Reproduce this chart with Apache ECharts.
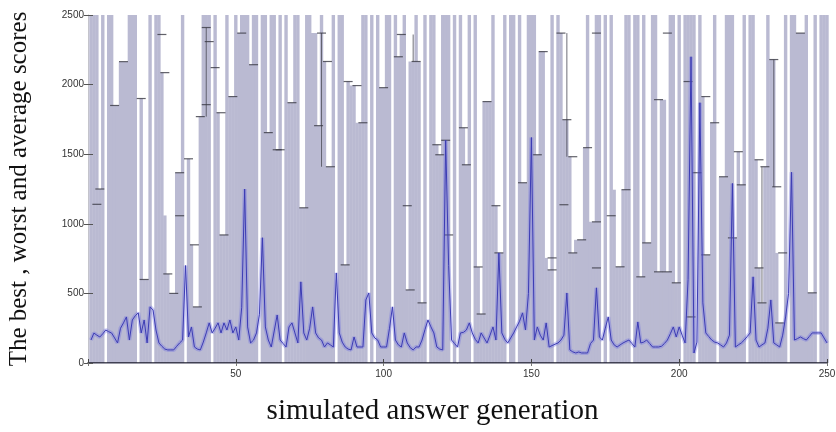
<!DOCTYPE html>
<html>
<head>
  <meta charset="utf-8" />
  <title>best, worst and average scores</title>
  <script src="https://cdn.jsdelivr.net/npm/echarts@6/dist/echarts.min.js"></script>
  <style>
    html, body { margin: 0; padding: 0; background: #fff; }
    #chart { width: 836px; height: 432px; }
  </style>
</head>
<body>
  <div id="chart"></div>
  <script type="text/javascript">
    // worst score of each generation (1..250), 2500 = clipped at the top
    var worst = [
      2500, 2500, 2500, 1250, 2500, 0, 2500, 2500, 1850, 1850,
      2165, 2165, 2165, 2500, 2500, 2500, 0, 1900, 600, 600,
      2500, 0, 2500, 2500, 2086, 1060, 640, 500, 500, 1367,
      1367, 2500, 0, 1467, 849, 403, 403, 1770, 2500, 2500,
      2500, 0, 2500, 1798, 920, 920, 2500, 1914, 1914, 2500,
      2370, 2500, 2500, 2500, 2143, 2500, 2500, 0, 2500, 2500,
      1655, 2500, 2500, 1532, 2500, 0, 2500, 1870, 1870, 2500,
      2500, 1115, 1115, 2500, 2500, 2370, 2370, 1705, 2500, 2166,
      1410, 1410, 2500, 0, 2500, 2500, 705, 2022, 1993, 1993,
      1726, 1726, 2500, 2500, 0, 2500, 0, 2500, 1978, 1978,
      2500, 2500, 0, 2500, 2200, 2360, 2500, 525, 2166, 2166,
      2500, 2166, 432, 2500, 0, 2500, 2500, 1568, 1496, 2500,
      2500, 2500, 0, 2500, 0, 2500, 1690, 1424, 2500, 0,
      2500, 690, 352, 1878, 1878, 1878, 2500, 1130, 791, 791,
      2500, 0, 2500, 2500, 0, 2500, 1295, 1295, 2500, 2500,
      2500, 1496, 2237, 2237, 755, 669, 2500, 0, 2500, 2370,
      1748, 1748, 1482, 791, 885, 885, 885, 1547, 2500, 1014,
      1014, 2500, 2500, 0, 2500, 0, 2500, 1245, 691, 691,
      1245, 2500, 2500, 0, 2500, 2500, 619, 2500, 863, 863,
      2500, 2500, 655, 1892, 1892, 655, 2500, 2500, 576, 2500,
      0, 2500, 2500, 2500, 2500, 0, 2500, 1914, 777, 777,
      1726, 2500, 0, 1338, 1338, 2500, 2500, 2500, 899, 1518,
      1280, 2500, 0, 2500, 2500, 1460, 683, 432, 1410, 2500,
      2180, 2180, 791, 288, 288, 2500, 0, 2500, 2500, 2370,
      2370, 2370, 2500, 504, 504, 2500, 0, 2500, 2500, 2500
    ]

    // average score of each generation
    var average = [
      165, 215, 200, 187, 210, 237, 225, 215, 180, 144,
      250, 288, 331, 165, 309, 340, 360, 216, 309, 144,
      403, 381, 237, 144, 120, 100, 94, 94, 94, 120,
      144, 165, 700, 187, 259, 115, 100, 94, 150, 216,
      288, 216, 250, 288, 216, 288, 237, 309, 216, 259,
      165, 400, 1250, 259, 144, 165, 216, 350, 900, 259,
      165, 115, 230, 345, 165, 140, 115, 259, 288, 216,
      144, 583, 216, 165, 250, 403, 216, 180, 165, 115,
      144, 130, 115, 647, 216, 150, 115, 100, 94, 187,
      115, 115, 115, 453, 503, 216, 180, 165, 115, 115,
      115, 250, 403, 165, 130, 115, 216, 144, 110, 94,
      115, 115, 165, 240, 309, 260, 216, 115, 100, 94,
      1600, 700, 165, 140, 115, 216, 220, 237, 288, 216,
      170, 144, 216, 180, 144, 200, 259, 165, 791, 216,
      170, 144, 180, 216, 259, 300, 360, 237, 500, 1620,
      165, 259, 200, 165, 288, 115, 125, 135, 144, 165,
      200, 503, 94, 80, 72, 79, 72, 72, 72, 140,
      165, 540, 187, 165, 250, 331, 165, 130, 115, 130,
      144, 155, 165, 140, 115, 295, 144, 150, 165, 140,
      115, 115, 115, 120, 140, 165, 210, 259, 187, 259,
      200, 144, 600, 2200, 72, 150, 1870, 432, 216, 190,
      165, 150, 144, 130, 115, 144, 200, 1290, 115, 130,
      144, 165, 190, 216, 619, 165, 115, 130, 144, 250,
      453, 144, 130, 115, 200, 331, 500, 1370, 165, 175,
      187, 175, 165, 190, 216, 216, 216, 216, 180, 144
    ]

    // error bar caps [generation, score]
    var caps = [
      [3, 1140], [4, 1250], [9, 1850], [12, 2165], [18, 1900], [19, 600], [25, 2360], [26, 2086],
      [31, 1058], [27, 640], [29, 500], [31, 1367], [34, 1467], [36, 849], [37, 403], [38, 1770],
      [40, 2410], [41, 2309], [40, 1856], [43, 2122], [45, 1798], [46, 920], [49, 1914], [52, 2370],
      [56, 2143], [61, 1655], [64, 1532], [65, 1532], [69, 1870], [73, 1115], [79, 2370], [78, 1705],
      [81, 2166], [82, 1410], [87, 705], [88, 2022], [91, 1993], [93, 1726], [100, 1978], [105, 2200],
      [106, 2360], [108, 1130], [109, 525], [111, 2166], [113, 432], [118, 1568], [119, 1496], [122, 920],
      [121, 1600], [127, 1690], [128, 1424], [132, 690], [133, 352], [135, 1878], [138, 1130], [139, 791],
      [147, 1295], [152, 1496], [154, 2237], [157, 755], [157, 669], [160, 2370], [161, 1137], [162, 1748],
      [164, 1482], [164, 791], [167, 885], [169, 1547], [172, 1014], [172, 683], [172, 2370], [177, 1058],
      [180, 691], [182, 1245], [187, 619], [189, 863], [193, 655], [196, 655], [193, 1892], [196, 2370],
      [199, 576], [203, 2022], [204, 331], [206, 1367], [209, 777], [209, 1914], [212, 1726], [215, 1338],
      [218, 899], [220, 1518], [221, 1280], [227, 683], [228, 432], [227, 1460], [229, 1410], [232, 2180],
      [233, 1266], [234, 288], [235, 791], [241, 2370], [245, 504]
    ]

    // visible black error bar stems [generation, low, high]
    var stems = [
      [40, 1770, 2410], [79, 1410, 2370], [110, 2166, 2360], [162, 1482, 2370], [228, 432, 1410], [232, 1266, 2180]
    ]

    var xTicks = [0, 50, 100, 150, 200, 250]
    var yTicks = [0, 500, 1000, 1500, 2000, 2500]

    var worstData = worst.map(function (v, i) { return [i + 1, v] })
    var avgData = average.map(function (v, i) { return [i + 1, v] })

    var myChart = echarts.init(document.getElementById("chart"))

    var option = {
      animation: false,
      backgroundColor: "#fff",
      grid: { left: 88, right: 9, top: 15, bottom: 69, outerBoundsMode: "none", containLabel: false },
      xAxis: [
        {
          type: "value",
          min: xTicks[0],
          max: xTicks[xTicks.length - 1],
          interval: 50,
          z: 10,
          axisLine: { show: true, lineStyle: { color: "#1a1a2a", width: 1.5 } },
          axisTick: { show: true, inside: true, length: 4, lineStyle: { color: "#444" } },
          axisLabel: {
            margin: 6,
            fontSize: 10,
            color: "#333",
            fontFamily: "Liberation Sans",
            formatter: function (v) { return v === 0 ? "" : String(v) }
          },
          splitLine: { show: false },
          name: "simulated answer generation",
          nameLocation: "middle",
          nameGap: 34,
          nameTextStyle: { fontFamily: "Liberation Serif", fontSize: 29, color: "#111", padding: [0, 50, 0, 0] }
        },
        {
          type: "value",
          position: "top",
          min: xTicks[0],
          max: xTicks[xTicks.length - 1],
          interval: 50,
          z: 10,
          axisLine: { show: true, lineStyle: { color: "#9a9aa6", width: 1 } },
          axisTick: { show: true, inside: true, length: 3, lineStyle: { color: "#777" } },
          axisLabel: { show: false },
          splitLine: { show: false }
        }
      ],
      yAxis: [
        {
          type: "value",
          min: yTicks[0],
          max: yTicks[yTicks.length - 1],
          interval: 500,
          z: 10,
          axisLine: { show: false },
          axisTick: { show: true, inside: true, length: 5, lineStyle: { color: "#555" } },
          axisLabel: {
            margin: 4,
            fontSize: 10,
            color: "#333",
            fontFamily: "Liberation Sans",
            formatter: function (v) { return String(v) }
          },
          splitLine: { show: false },
          name: "The best , worst and average scores",
          nameLocation: "middle",
          nameGap: 56,
          nameTextStyle: { fontFamily: "Liberation Serif", fontSize: 25, color: "#111" }
        },
        {
          type: "value",
          position: "right",
          min: yTicks[0],
          max: yTicks[yTicks.length - 1],
          interval: 500,
          z: 10,
          axisLine: { show: true, lineStyle: { color: "#c4c4cc" } },
          axisTick: { show: true, inside: true, length: 4, lineStyle: { color: "#555" } },
          axisLabel: { show: false },
          splitLine: { show: false }
        }
      ],
      series: [
        {
          name: "worst",
          type: "bar",
          data: worstData,
          barWidth: 3.4,
          itemStyle: { color: "#babad2" },
          z: 1
        },
        {
          name: "stems",
          type: "custom",
          data: stems,
          z: 3,
          renderItem: function (params, api) {
            var p1 = api.coord([api.value(0), api.value(1)])
            var p2 = api.coord([api.value(0), api.value(2)])
            return {
              type: "line",
              shape: { x1: p1[0], y1: p1[1], x2: p2[0], y2: p2[1] },
              style: { stroke: "#4a4a55", lineWidth: 0.8 }
            }
          }
        },
        {
          name: "caps",
          type: "scatter",
          data: caps,
          symbol: "rect",
          symbolSize: [9, 1.2],
          itemStyle: { color: "#3a3a44" },
          z: 4
        },
        {
          name: "average halo",
          type: "line",
          data: avgData,
          showSymbol: false,
          lineStyle: { color: "rgba(110,110,225,0.35)", width: 4 },
          z: 5
        },
        {
          name: "average",
          type: "line",
          data: avgData,
          showSymbol: false,
          lineStyle: { color: "#3c3cb4", width: 1 },
          z: 6
        }
      ]
    }
    myChart.setOption(option, true)
  </script>
</body>
</html>
